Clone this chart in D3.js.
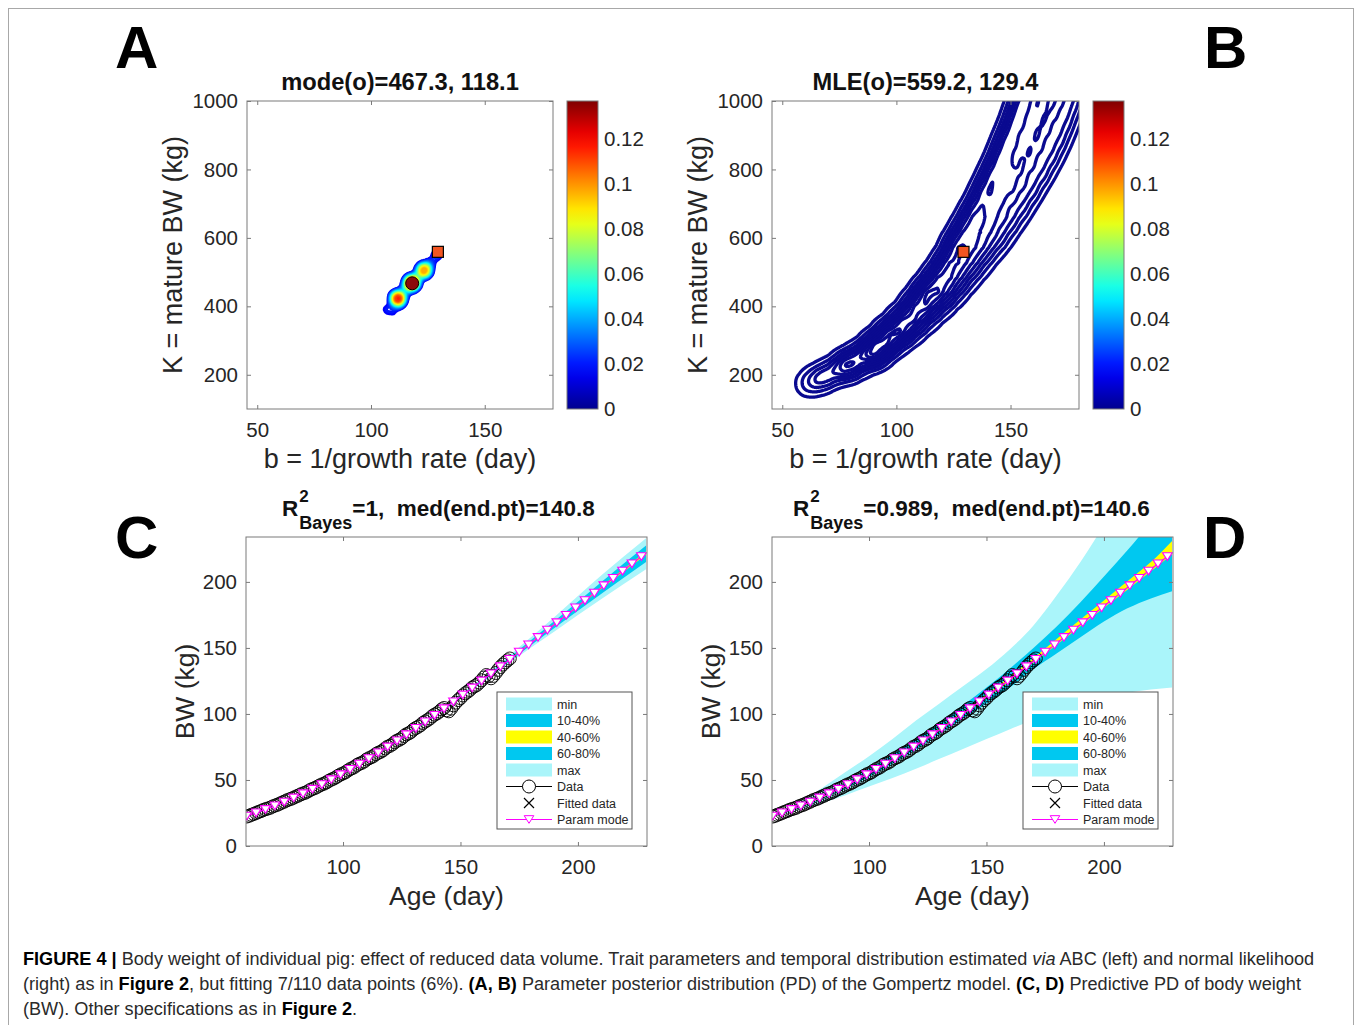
<!DOCTYPE html>
<html><head><meta charset="utf-8">
<script src="https://cdn.jsdelivr.net/npm/d3@7"></script>
<style>
body{margin:0;background:#fff;}
text{font-family:"Liberation Sans", Arial, Helvetica, sans-serif;}
</style></head><body>
<svg id="fig" width="1355" height="1025"></svg>
<script>
// ---------------- DATA ----------------
const bTicks = [50, 100, 150];
const kTicks = [200, 400, 600, 800, 1000];
const cbTicks = [0, 0.02, 0.04, 0.06, 0.08, 0.1, 0.12];
const cbLabels = ["0", "0.02", "0.04", "0.06", "0.08", "0.1", "0.12"];
const ageTicks = [100, 150, 200];
const bwTicks = [0, 50, 100, 150, 200];

const modeABC = {b: 118.1, K: 467.3};
const mleNorm = {b: 129.4, K: 559.2};

// ABC posterior samples (b, K, weight)
const abcB = [111.8, 111.0, 112.6, 115.0, 117.9, 117.1, 118.7, 120.5, 123.4, 122.7, 124.1, 105.6, 108.4, 111.0, 126.2, 128.8, 129.8];
const abcK = [422.0, 427.2, 416.8, 446.0, 468.2, 473.4, 463.0, 486.0, 505.5, 510.2, 500.8, 393.0, 387.0, 383.0, 527.0, 548.0, 560.0];
const abcW = [0.55, 0.25, 0.25, 0.25, 0.6, 0.25, 0.25, 0.22, 0.45, 0.2, 0.2, 0.1, 0.1, 0.08, 0.14, 0.12, 0.12];

// normal-likelihood samples (b, K, weight)
const likB = [61.5, 67.8, 74.4, 79.7, 80.6, 88.5,
              87.7, 91.6, 95.5, 93.4, 98.1, 102.9, 99.1, 104.3, 109.5, 104.8, 110.4, 116.1,
              110.0, 116.1, 122.2, 114.8, 121.4, 127.9, 119.7, 126.6, 133.6, 124.1, 131.5, 138.9,
              127.5, 135.9, 144.2, 131.5, 140.2, 149.0, 135.4, 144.6, 153.8,
              139.3, 149.0, 158.2, 142.9, 153.0, 162.6, 146.4, 156.9, 166.6, 149.4, 160.4, 170.1,
              152.5, 163.5, 173.1, 155.1, 166.6, 175.8, 157.8, 169.2, 178.4, 160.0, 171.8, 181.0];
const likK = [175.0, 192.5, 216.9, 216.9, 243.2, 243.2,
              272.4, 272.4, 272.4, 307.5, 307.5, 307.5, 342.5, 342.5, 342.5, 380.5, 380.5, 380.5,
              421.4, 421.4, 421.4, 462.4, 462.4, 462.4, 506.2, 506.2, 506.2, 550.0, 550.0, 550.0,
              593.9, 593.9, 593.9, 640.6, 640.6, 640.6, 687.4, 687.4, 687.4,
              737.1, 737.1, 737.1, 786.7, 786.7, 786.7, 836.4, 836.4, 836.4, 886.1, 886.1, 886.1,
              935.8, 935.8, 935.8, 985.4, 985.4, 985.4, 1035.1, 1035.1, 1035.1, 1084.8, 1084.8, 1084.8];
const likW = [0.35, 0.65, 0.6, 0.45, 0.74, 0.5,
              0.68, 0.58, 0.37, 0.68, 0.58, 0.37, 0.68, 0.58, 0.37, 0.68, 0.58, 0.37,
              0.84, 0.71, 0.46, 0.84, 0.71, 0.46, 0.84, 0.71, 0.46, 0.84, 0.71, 0.46,
              0.93, 0.79, 0.51, 0.93, 0.79, 0.51, 0.93, 0.79, 0.51,
              1, 0.85, 0.55, 1, 0.85, 0.55, 1, 0.85, 0.55, 1, 0.85, 0.55,
              1, 0.85, 0.55, 1, 0.85, 0.55, 1, 0.85, 0.55, 1, 0.85, 0.55];

// observed body weight (daily)
const dataAge = [59,60,61,62,63,64,65,66,67,68,69,70,71,72,73,74,75,76,77,78,79,80,81,82,83,84,85,86,87,88,89,90,91,92,93,94,95,96,97,98,99,100,
  101,102,103,104,105,106,107,108,109,110,111,112,113,114,115,116,117,118,119,120,121,122,123,124,125,126,127,128,129,130,
  131,132,133,134,135,136,137,138,139,140,141,142,143,144,145,146,147,148,149,150,151,152,153,154,155,156,157,158,159,160,
  161,162,163,164,165,166,167,168,169,170,171];
const dataBW = [22.3,22.9,23.6,24.3,25.0,25.8,26.4,27.2,27.9,28.4,29.0,29.9,30.6,31.2,32.0,32.9,33.6,34.5,35.2,35.8,36.6,37.5,38.2,39.1,39.8,40.4,41.3,42.4,43.2,43.9,44.8,45.8,46.6,47.3,48.2,49.4,50.3,51.0,52.0,53.2,54.2,54.9,
  55.8,57.1,58.2,59.0,60.0,61.4,62.3,63.0,64.0,65.5,66.4,67.2,68.2,69.6,70.6,71.3,72.4,73.9,75.2,75.9,77.0,78.6,79.8,80.5,81.6,83.3,84.6,85.3,86.5,88.2,
  89.4,90.3,91.5,93.2,94.3,95.4,96.6,98.3,99.5,100.4,101.8,103.5,104.5,102.8,102.0,104.0,106.5,108.6,110.5,112.0,114.0,115.6,116.8,118.2,120.0,121.0,122.0,123.8,125.5,127.6,
  129.5,128.6,127.0,128.8,131.0,133.4,135.5,137.4,139.0,140.6,142.0];

// parameter-mode curve
const modeAge = [59,63,67,71,75,79,83,87,91,95,99,103,107,111,115,119,123,127,131,135,139,143,147,151,155,159,163,167,171,175,179,183,187,191,195,199,203,207,211,215,219,223,227];
const modeBW  = [22.7,25.1,27.7,30.4,33.3,36.4,39.6,43.0,46.5,50.2,54.0,58.0,62.0,66.2,70.5,75.0,79.6,84.3,89.1,94.0,99.0,104.0,109.2,114.4,119.7,125.0,130.4,135.8,141.3,146.8,152.3,157.9,163.5,169.1,174.7,180.3,185.9,191.5,197.1,202.7,208.2,213.7,219.2];

// predictive percentile bands, panel C (ABC)
const bandAgeC = [59, 80, 100, 120, 140, 160, 172, 190, 210, 229];
const cMin = [22.4, 36.8, 54.4, 75.1, 99.0, 124.3, 140.2, 162.5, 187.0, 209.5];
const cP10 = [22.5, 37.0, 54.7, 75.5, 99.6, 125.3, 141.5, 165.0, 191.0, 215.0];
const cP40 = [22.7, 37.2, 55.0, 75.9, 100.2, 126.1, 142.7, 167.2, 194.8, 220.6];
const cP60 = [22.8, 37.3, 55.1, 76.1, 100.5, 126.6, 143.3, 168.3, 196.6, 223.0];
const cP80 = [22.9, 37.5, 55.4, 76.5, 101.0, 127.3, 144.4, 170.3, 200.0, 227.5];
const cMax = [23.0, 37.7, 55.8, 77.1, 101.8, 128.5, 146.2, 173.5, 205.0, 233.0];

// predictive percentile bands, panel D (normal likelihood)
const bandAgeD = [59, 70, 80, 90, 100, 110, 120, 130, 140, 150, 160, 170, 180, 190, 200, 210, 220, 229];
const dMin = [22.0, 27.0, 32.5, 38.5, 45.0, 51.5, 58.5, 66.0, 73.5, 81.0, 88.5, 95.5, 102.0, 108.0, 112.5, 116.0, 118.5, 120.0];
const dP10 = [22.4, 28.5, 35.6, 43.5, 52.5, 62.5, 73.0, 85.0, 96.5, 108.0, 120.0, 134.0, 146.0, 158.0, 170.0, 180.0, 187.5, 193.0];
const dP40 = [22.6, 28.9, 36.4, 44.9, 54.6, 64.5, 75.4, 87.3, 99.4, 111.9, 125.0, 138.8, 152.6, 166.5, 180.5, 194.0, 208.0, 221.0];
const dP60 = [22.8, 29.2, 36.9, 45.6, 55.6, 65.8, 77.0, 89.2, 101.8, 114.8, 128.4, 142.4, 157.0, 171.5, 186.0, 200.5, 215.0, 231.0];
const dP80 = [23.2, 30.3, 38.6, 48.0, 58.5, 69.5, 81.0, 93.5, 106.5, 120.0, 134.5, 150.0, 166.5, 184.5, 204.0, 224.0, 245.0, 265.0];
const dMax = [23.5, 33.0, 44.0, 56.0, 68.0, 81.0, 95.0, 108.0, 121.0, 134.0, 149.0, 167.0, 190.0, 215.0, 243.0, 272.0, 302.0, 330.0];

const legendLabels = ["min", "10-40%", "40-60%", "60-80%", "max", "Data", "Fitted data", "Param mode"];

const titleA = "mode(o)=467.3, 118.1";
const titleB = "MLE(o)=559.2, 129.4";
const titleCrest = "=1,  med(end.pt)=140.8";
const titleDrest = "=0.989,  med(end.pt)=140.6";

// ---------------- STYLE ----------------
const AXC = "#7a7a7a", TXC = "#262626";
const LIGHT = "#aaf5fa", MID = "#00c8f0", YEL = "#ffff00", MAG = "#ff00ff";
const jet = d3.scaleLinear().domain([0, 0.125, 0.375, 0.625, 0.875, 1])
  .range(["#00008f", "#0000ff", "#00ffff", "#ffff00", "#ff0000", "#800000"]).clamp(true);
const CBMAX = 0.137;

const svg = d3.select("#fig");
const defs = svg.append("defs");
svg.append("rect").attr("x", 8.5).attr("y", 8.5).attr("width", 1345).attr("height", 1040)
  .attr("fill", "none").attr("stroke", "#a8a8a8");

function axesBox(g, x, y, w, h, xT, yT) {
  const ax = g.append("g");
  ax.append("g").attr("transform", `translate(0,${h})`)
    .call(d3.axisBottom(x).tickValues(xT).tickSizeInner(-4).tickSizeOuter(0).tickPadding(13).tickFormat(d3.format("d")));
  ax.append("g").call(d3.axisTop(x).tickValues(xT).tickSizeInner(-4).tickSizeOuter(0).tickFormat(""));
  ax.append("g").call(d3.axisLeft(y).tickValues(yT).tickSizeInner(-4).tickSizeOuter(0).tickPadding(9).tickFormat(d3.format("d")));
  ax.append("g").attr("transform", `translate(${w},0)`)
    .call(d3.axisRight(y).tickValues(yT).tickSizeInner(-4).tickSizeOuter(0).tickFormat(""));
  ax.selectAll(".domain").remove();
  ax.selectAll(".tick line").attr("stroke", AXC);
  ax.selectAll(".tick text").attr("fill", TXC).attr("font-size", 20.5);
  g.append("rect").attr("width", w).attr("height", h).attr("fill", "none").attr("stroke", AXC);
}

function clip(id, w, h) {
  defs.append("clipPath").attr("id", id).append("rect").attr("width", w).attr("height", h);
  return `url(#${id})`;
}

function density(pts, w, h, bw) {
  const dens = d3.contourDensity().x(d => d.x).y(d => d.y).weight(d => d.w)
    .size([w, h]).bandwidth(bw).cellSize(1);
  if (typeof dens.contours === "function") {
    const c = dens.contours(pts);
    return {max: c.max, at: v => c(v)};
  }
  const all = dens.thresholds(400)(pts);
  const mx = d3.max(all, c => c.value);
  return {max: mx, at: v => dens.thresholds([v])(pts)[0]};
}

function colorbar(x0, y0, w, h) {
  const id = "cbgrad" + x0;
  const gr = defs.append("linearGradient").attr("id", id).attr("x1", 0).attr("y1", 1).attr("x2", 0).attr("y2", 0);
  d3.range(0, 1.0001, 0.05).forEach(t => gr.append("stop").attr("offset", t).attr("stop-color", jet(t)));
  const g = svg.append("g").attr("transform", `translate(${x0},${y0})`);
  g.append("rect").attr("width", w).attr("height", h).attr("fill", `url(#${id})`).attr("stroke", AXC);
  const s = d3.scaleLinear([0, CBMAX], [h, 0]);
  g.selectAll("text.cb").data(cbTicks).join("text").attr("class", "cb")
    .attr("x", w + 6).attr("y", d => s(d)).attr("dy", "0.35em")
    .attr("font-size", 20.5).attr("fill", TXC).text((d, i) => cbLabels[i]);
}

function paramPanel(x0, y0, w, h, title, samplesB, samplesK, samplesW, bw, levels, colorFn, sw, id) {
  const g = svg.append("g").attr("transform", `translate(${x0},${y0})`);
  const x = d3.scaleLinear([45.5, 180], [0, w]);
  const y = d3.scaleLinear([100, 1000], [h, 0]);
  const pts = samplesB.map((b, i) => ({x: x(b), y: y(samplesK[i]), w: samplesW[i]}));
  const d = density(pts, w, h, bw);
  const path = d3.geoPath();
  const cg = g.append("g").attr("clip-path", clip(id, w, h));
  levels.forEach(r => {
    const c = d.at(r * d.max);
    cg.append("path").attr("d", path(c)).attr("fill", "none")
      .attr("stroke", colorFn(r)).attr("stroke-width", sw).attr("stroke-linejoin", "round");
  });
  axesBox(g, x, y, w, h, bTicks, kTicks);
  g.append("text").attr("x", w / 2).attr("y", -11).attr("text-anchor", "middle")
    .attr("font-size", 23.7).attr("font-weight", "bold").attr("fill", "#111").text(title);
  g.append("text").attr("x", w / 2).attr("y", 367).attr("text-anchor", "middle")
    .attr("font-size", 27).attr("fill", TXC).text("b = 1/growth rate (day)");
  g.append("text").attr("transform", `translate(-65,${h / 2})rotate(-90)`).attr("text-anchor", "middle")
    .attr("font-size", 27).attr("fill", TXC).text("K = mature BW (kg)");
  return {g, x, y};
}

// Panel A
const A = paramPanel(247, 101, 306, 308, titleA, abcB, abcK, abcW, 4.5,
  d3.range(0.13, 0.99, 0.025), r => jet(r * 0.128 / CBMAX), 3, "clipA");
A.g.append("circle").attr("cx", A.x(modeABC.b)).attr("cy", A.y(modeABC.K)).attr("r", 6.5)
  .attr("fill", "#8b0a0a").attr("stroke", "#000").attr("stroke-width", 1);
A.g.append("rect").attr("x", A.x(mleNorm.b) - 5.5).attr("y", A.y(mleNorm.K) - 5.5).attr("width", 11).attr("height", 11)
  .attr("fill", "#f25522").attr("stroke", "#000").attr("stroke-width", 1.2);
colorbar(567, 101, 31, 308);

// Panel B
const B = paramPanel(772, 101, 307, 308, titleB, likB, likK, likW, 8.5,
  [0.07, 0.17, 0.28, 0.39, 0.5, 0.61, 0.72, 0.83, 0.93], r => "#0a0a90", 3.3, "clipB");
B.g.append("rect").attr("x", B.x(mleNorm.b) - 5.5).attr("y", B.y(mleNorm.K) - 5.5).attr("width", 11).attr("height", 11)
  .attr("fill", "#f25522").attr("stroke", "#000").attr("stroke-width", 1.2);
colorbar(1093, 101, 31, 308);

// Growth panels
function triPath(s) { return `M${-s},${-s * 0.8}L${s},${-s * 0.8}L0,${s * 0.8}Z`; }

function growthPanel(x0, y0, w, h, ages, mn, p10, p40, p60, p80, mx, titleRest, titleX, id) {
  const g = svg.append("g").attr("transform", `translate(${x0},${y0})`);
  const x = d3.scaleLinear([58.7, 229.4], [0, w]);
  const y = d3.scaleLinear([0, 234], [h, 0]);
  const cg = g.append("g").attr("clip-path", clip(id, w, h));
  const area = (lo, hi) => d3.area().x((d, i) => x(ages[i])).y0((d, i) => y(lo[i])).y1((d, i) => y(hi[i])).curve(d3.curveMonotoneX)(ages);
  cg.append("path").attr("d", area(mn, mx)).attr("fill", LIGHT);
  cg.append("path").attr("d", area(p10, p80)).attr("fill", MID);
  cg.append("path").attr("d", area(p40, p60)).attr("fill", YEL);
  const line = d3.line().x((d, i) => x(dataAge[i])).y((d, i) => y(dataBW[i]));
  cg.append("path").attr("d", line(dataAge)).attr("fill", "none").attr("stroke", "#000").attr("stroke-width", 1);
  cg.selectAll("circle.obs").data(dataAge).join("circle").attr("class", "obs")
    .attr("cx", (d, i) => x(d)).attr("cy", (d, i) => y(dataBW[i])).attr("r", 6.5)
    .attr("fill", "none").attr("stroke", "#000").attr("stroke-width", 0.9);
  const mline = d3.line().x((d, i) => x(modeAge[i])).y((d, i) => y(modeBW[i]));
  cg.append("path").attr("d", mline(modeAge)).attr("fill", "none").attr("stroke", MAG).attr("stroke-width", 1.2);
  cg.selectAll("path.tri").data(modeAge).join("path").attr("class", "tri")
    .attr("transform", (d, i) => `translate(${x(d)},${y(modeBW[i])})`).attr("d", triPath(4.8))
    .attr("fill", "#fff").attr("stroke", MAG).attr("stroke-width", 1.1);
  axesBox(g, x, y, w, h, ageTicks, bwTicks);
  // title with super/subscript
  const ty = -21;
  const tR = g.append("text").attr("x", titleX).attr("y", ty).attr("font-size", 22.5).attr("font-weight", "bold").attr("fill", "#111").text("R");
  const wR = tR.node().getComputedTextLength();
  g.append("text").attr("x", titleX + wR + 1).attr("y", ty - 14).attr("font-size", 17).attr("font-weight", "bold").attr("fill", "#111").text("2");
  const tS = g.append("text").attr("x", titleX + wR + 1).attr("y", ty + 13).attr("font-size", 18).attr("font-weight", "bold").attr("fill", "#111").text("Bayes");
  const wS = tS.node().getComputedTextLength();
  g.append("text").attr("x", titleX + wR + 1 + wS).attr("y", ty).attr("font-size", 22.5).attr("font-weight", "bold")
    .attr("fill", "#111").style("white-space", "pre").text(titleRest);
  g.append("text").attr("x", w / 2).attr("y", 368).attr("text-anchor", "middle")
    .attr("font-size", 26.5).attr("fill", TXC).text("Age (day)");
  g.append("text").attr("transform", `translate(-52,${h / 2})rotate(-90)`).attr("text-anchor", "middle")
    .attr("font-size", 26.5).attr("fill", TXC).text("BW (kg)");
  // legend
  const lg = g.append("g").attr("transform", `translate(${w - 150},${155})`);
  lg.append("rect").attr("width", 135).attr("height", 137).attr("fill", "#fff").attr("stroke", "#555");
  const fills = [LIGHT, MID, YEL, MID, LIGHT];
  legendLabels.forEach((lab, i) => {
    const cy = 12 + i * 16.5;
    if (i < 5) {
      lg.append("rect").attr("x", 9).attr("y", cy - 6.5).attr("width", 46).attr("height", 13).attr("fill", fills[i]);
    } else if (i === 5) {
      lg.append("line").attr("x1", 9).attr("x2", 55).attr("y1", cy).attr("y2", cy).attr("stroke", "#000");
      lg.append("circle").attr("cx", 32).attr("cy", cy).attr("r", 6.5).attr("fill", "#fff").attr("stroke", "#000");
    } else if (i === 6) {
      lg.append("path").attr("d", `M27,${cy - 5}L37,${cy + 5}M37,${cy - 5}L27,${cy + 5}`).attr("stroke", "#000").attr("stroke-width", 1.2);
    } else {
      lg.append("line").attr("x1", 9).attr("x2", 55).attr("y1", cy).attr("y2", cy).attr("stroke", MAG).attr("stroke-width", 1.2);
      lg.append("path").attr("transform", `translate(32,${cy})`).attr("d", triPath(4.8)).attr("fill", "#fff").attr("stroke", MAG);
    }
    lg.append("text").attr("x", 60).attr("y", cy).attr("dy", "0.36em").attr("font-size", 12.5).attr("fill", TXC).text(lab);
  });
  return g;
}

growthPanel(246, 537, 401, 309, bandAgeC, cMin, cP10, cP40, cP60, cP80, cMax, titleCrest, 36, "clipC");
growthPanel(772, 537, 401, 309, bandAgeD, dMin, dP10, dP40, dP60, dP80, dMax, titleDrest, 21, "clipD");

// panel letters
[["A", 115, 68], ["B", 1204, 68], ["C", 115, 558], ["D", 1203, 558]].forEach(([t, x, y]) =>
  svg.append("text").attr("x", x).attr("y", y).attr("font-size", 60).attr("font-weight", "bold").attr("fill", "#000").text(t));

// caption
const capLines = [
  [["FIGURE 4 |", "b"], [" Body weight of individual pig: effect of reduced data volume. Trait parameters and temporal distribution estimated ", ""], ["via", "i"], [" ABC (left) and normal likelihood", ""]],
  [["(right) as in ", ""], ["Figure 2", "b"], [", but fitting 7/110 data points (6%). ", ""], ["(A, B)", "b"], [" Parameter posterior distribution (PD) of the Gompertz model. ", ""], ["(C, D)", "b"], [" Predictive PD of body weight", ""]],
  [["(BW). Other specifications as in ", ""], ["Figure 2", "b"], [".", ""]]
];
const capY = [965, 990, 1015];
const capNodes = capLines.map((segs, li) => {
  const t = svg.append("text").attr("x", 23).attr("y", capY[li]).attr("font-size", 18).attr("fill", "#2a2a2a").style("white-space", "pre");
  segs.forEach(([s, st]) => {
    const ts = t.append("tspan").text(s);
    if (st === "b") ts.attr("font-weight", "bold").attr("fill", "#000");
    if (st === "i") ts.attr("font-style", "italic");
  });
  return t;
});
const w1 = capNodes[0].node().getComputedTextLength();
const fs = 18 * 1292 / w1;
capNodes.forEach(t => t.attr("font-size", fs));
</script>
</body></html>
